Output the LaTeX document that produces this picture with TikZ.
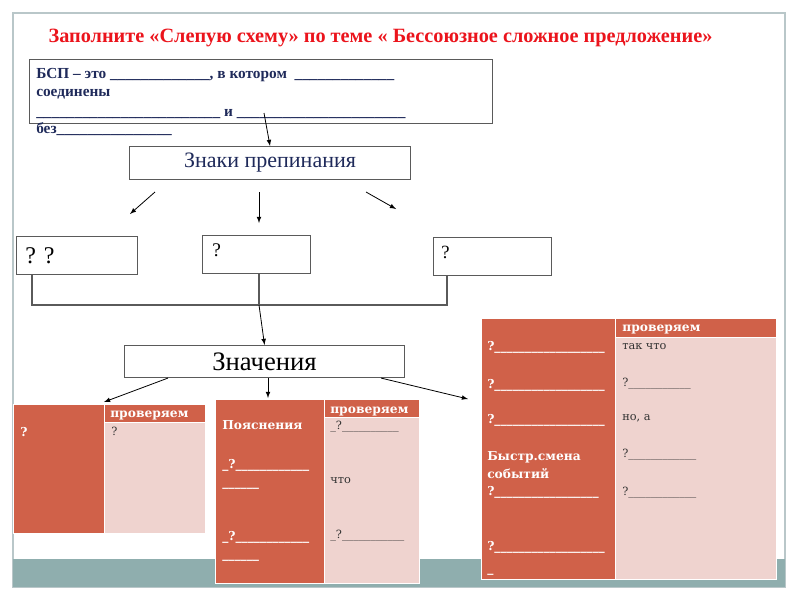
\documentclass[tikz,border=0pt]{standalone}
\usepackage{fontspec}
\setmainfont{Liberation Serif}
\newfontfamily\tabfont{DejaVu Serif}
\definecolor{brick}{RGB}{208,97,73}
\definecolor{blush}{RGB}{239,211,207}
\definecolor{slate}{RGB}{143,174,174}
\definecolor{rim}{RGB}{185,199,201}
\definecolor{ink}{RGB}{31,42,90}
\definecolor{headred}{RGB}{235,20,28}
\definecolor{boxline}{RGB}{90,90,90}
\newcommand\lineblank[1]{\foreach\k in {1,...,#1}{\_}}
\tikzset{
  cellat/.style n args={4}{anchor=north west,at={(#1,#2)},minimum width={(#3-#1)*0.75pt},minimum height={(#4-#2)*0.75pt}},
  plainbox/.style={draw=boxline,line width=0.8pt,fill=white,inner sep=0pt},
  darkcell/.style={fill=brick,draw=white,line width=1pt,inner sep=0pt},
  lightcell/.style={fill=blush,draw=white,line width=1pt,inner sep=0pt},
  deftext/.style={anchor=base west,inner sep=0pt,text=ink,font=\bfseries\fontsize{11.5}{13}\selectfont},
  darktext/.style={anchor=base west,inner sep=0pt,text=white,font=\tabfont\bfseries\fontsize{9.2}{11}\selectfont},
  lighttext/.style={anchor=base west,inner sep=0pt,text=black!80,font=\tabfont\fontsize{8.5}{10}\selectfont},
  arr/.style={-latex,line width=0.6pt},
  joint/.style={draw=boxline,line width=0.8pt}
}
\begin{document}
\begin{tikzpicture}[x=0.75pt,y=-0.75pt]
\useasboundingbox (0,0) rectangle (800,600);
% slide frame and bottom band
\draw[rim,line width=1.5pt] (13,13) rectangle (785,587);
\fill[slate] (13,559) rectangle (785,587);

\node[font=\bfseries\fontsize{15.2}{17}\selectfont,text=headred,anchor=base] (title) at (380.5,42)
  {Заполните «Слепую схему» по теме « Бессоюзное сложное предложение»};

% definition
\node[plainbox,cellat={29}{59}{492}{123}] (def) {};
\node[deftext] (def1) at (36,78) {БСП – это \lineblank{13}, в котором\ \ \lineblank{13}};
\node[deftext] (def2) at (36,96) {соединены};
\node[deftext] (def3) at (36,116) {\lineblank{24} и \lineblank{22}};
\node[deftext] (def4) at (36,133) {без\lineblank{15}};

\node[plainbox,cellat={129}{146}{410}{179},text=ink,font=\fontsize{16.5}{18}\selectfont] (znaki) {Знаки препинания};

% three marks
\node[plainbox,cellat={16}{236}{137}{274}] (qq) {};
\node[plainbox,cellat={202}{235}{310}{273}] (qm) {};
\node[plainbox,cellat={433}{237}{551}{275}] (qr) {};
\node[anchor=base west,inner sep=0pt,font=\fontsize{18}{20}\selectfont] (qqtext) at (25,263) {? ?};
\node[anchor=base west,inner sep=0pt,font=\fontsize{14.5}{16}\selectfont] (qmtext) at (212,256) {?};
\node[anchor=base west,inner sep=0pt,font=\fontsize{14}{16}\selectfont] (qrtext) at (441,258) {?};

\node[plainbox,cellat={124}{345}{404}{377},font=\fontsize{20}{22}\selectfont] (znach) {Значения};

% left table
\node[darkcell,cellat={13}{404}{104}{533}] (ldark) {};
\node[darkcell,cellat={104}{404}{205}{422}] (lhead) {};
\node[lightcell,cellat={104}{422}{205}{533}] (lbody) {};
\node[darktext] (lq) at (20,436) {?};
\node[darktext] (lcheck) at (110,417) {проверяем};
\node[lighttext] (lans) at (111,435) {?};

% middle table
\node[darkcell,cellat={215}{399}{324}{583}] (mdark) {};
\node[darkcell,cellat={324}{399}{419}{417}] (mhead) {};
\node[lightcell,cellat={324}{417}{419}{583}] (mbody) {};
\node[darktext] (mexp) at (222,429) {Пояснения};
\node[darktext] (mq1) at (222,468) {\_?\lineblank{12}};
\node[darktext] (mq1b) at (222,486) {\lineblank{6}};
\node[darktext] (mq2) at (222,540) {\_?\lineblank{12}};
\node[darktext] (mq2b) at (222,558) {\lineblank{6}};
\node[darktext] (mcheck) at (330,413) {проверяем};
\node[lighttext] (ma1) at (330,429) {\_?\lineblank{10}};
\node[lighttext] (ma2) at (330,483) {что};
\node[lighttext] (ma3) at (330,538) {\_?\lineblank{11}};

% right table
\node[darkcell,cellat={481}{318}{615}{579}] (rdark) {};
\node[darkcell,cellat={615}{318}{776}{337}] (rhead) {};
\node[lightcell,cellat={615}{337}{776}{579}] (rbody) {};
\node[darktext] (rq1) at (487,350) {?\lineblank{18}};
\node[darktext] (rq2) at (487,388) {?\lineblank{18}};
\node[darktext] (rq3) at (487,423) {?\lineblank{18}};
\node[darktext] (rfast) at (487,460) {Быстр.смена};
\node[darktext] (rfast2) at (487,478) {событий};
\node[darktext] (rq4) at (487,495) {?\lineblank{17}};
\node[darktext] (rq5) at (487,550) {?\lineblank{18}};
\node[darktext] (rq5b) at (487,572) {\_};
\node[darktext] (rcheck) at (622,331) {проверяем};
\node[lighttext] (ra1) at (622,349) {так что};
\node[lighttext] (ra2) at (622,386) {?\lineblank{11}};
\node[lighttext] (ra3) at (622,420) {но, а};
\node[lighttext] (ra4) at (622,457) {?\lineblank{12}};
\node[lighttext] (ra5) at (622,495) {?\lineblank{12}};

% connectors
\coordinate (deffoot) at (264,113);
\draw[arr] (deffoot) -- (znaki.north);
\coordinate (s1) at (155,192);
\coordinate (e1) at (130,214);
\coordinate (s2) at (259,192);
\coordinate (e2) at (259,223);
\coordinate (s3) at (366,192);
\coordinate (e3) at (396,209);
\draw[arr] (s1) -- (e1);
\draw[arr] (s2) -- (e2);
\draw[arr] (s3) -- (e3);
\coordinate (join) at (259,305);
\draw[joint] ([xshift=12pt]qq.south west) |- (join) -| ([xshift=10.5pt]qr.south west);
\draw[joint] (qm.south -| join) -- (join);
\draw[arr] (join) -- (znach.north);
\coordinate (mtip) at (268,398);
\coordinate (rtip) at (468,399);
\draw[arr] ([xshift=33pt]znach.south west) -- ([yshift=1.5pt]lhead.north west);
\draw[arr] (znach.south -| mtip) -- (mtip);
\draw[arr] ([xshift=-18pt]znach.south east) -- (rtip);
\end{tikzpicture}
\end{document}
